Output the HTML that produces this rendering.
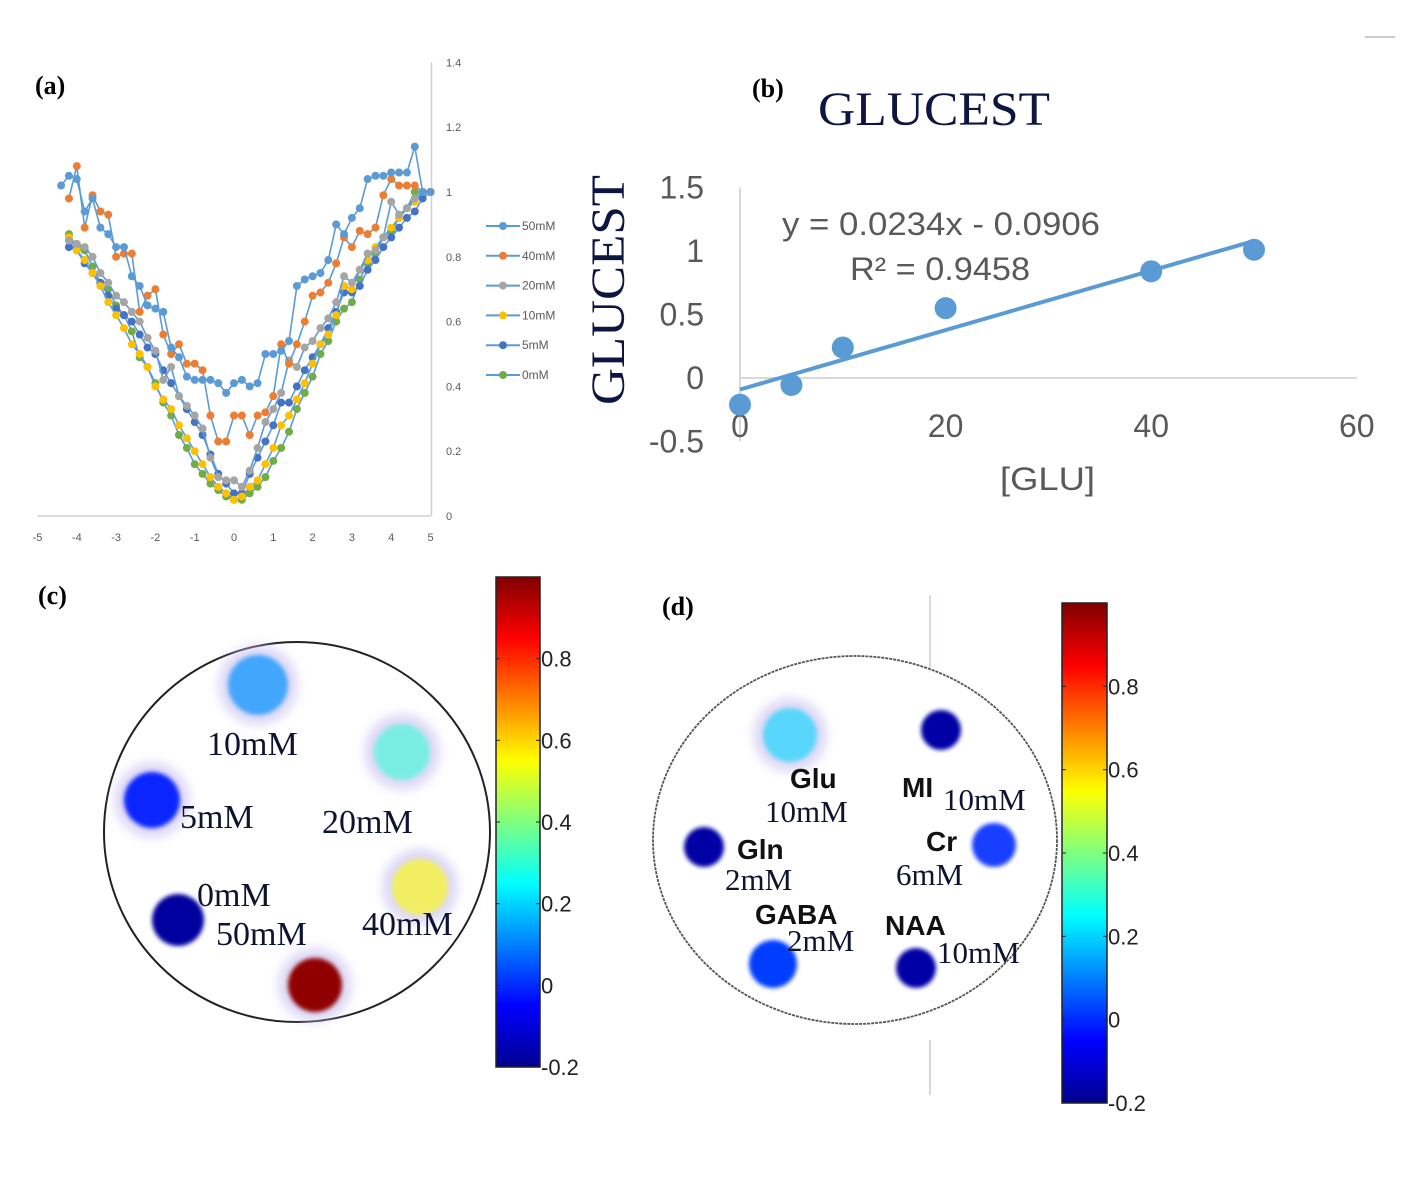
<!DOCTYPE html>
<html><head><meta charset="utf-8"><style>
html,body{margin:0;padding:0;background:#fff;}
svg{display:block;}
.serif{font-family:"Liberation Serif",serif;}
.sans{font-family:"Liberation Sans",sans-serif;}
</style></head><body>
<svg id="fig" width="1417" height="1187" viewBox="0 0 1417 1187" xmlns="http://www.w3.org/2000/svg">
<defs>
<linearGradient id="jet" x1="0" y1="1" x2="0" y2="0">
<stop offset="0" stop-color="#00008f"/><stop offset="0.125" stop-color="#0000ff"/><stop offset="0.375" stop-color="#00ffff"/><stop offset="0.625" stop-color="#ffff00"/><stop offset="0.875" stop-color="#ff0000"/><stop offset="1" stop-color="#800000"/>
</linearGradient>
<filter id="blur" x="-50%" y="-50%" width="200%" height="200%"><feGaussianBlur stdDeviation="5"/></filter>
<filter id="blur2" x="-50%" y="-50%" width="200%" height="200%"><feGaussianBlur stdDeviation="2"/></filter>
</defs>
<line x1="1365" y1="37" x2="1395" y2="37" stroke="#ccc" stroke-width="2"/>

<g id="panelA">
<text x="35" y="94" class="serif" font-weight="bold" font-size="26">(a)</text>
</g>
<g id="panelB">
<text x="752" y="97" class="serif" font-weight="bold" font-size="26">(b)</text>
<text x="818" y="125" class="serif" font-size="48" fill="#0d1640" textLength="232" lengthAdjust="spacingAndGlyphs">GLUCEST</text>
<text transform="translate(624,405) rotate(-90)" class="serif" font-size="48" fill="#0d1640" textLength="230" lengthAdjust="spacingAndGlyphs">GLUCEST</text>
<text x="1000" y="490" class="sans" font-size="32" fill="#595959" textLength="95" lengthAdjust="spacingAndGlyphs">[GLU]</text>
<text x="782" y="235" class="sans" font-size="32" fill="#595959" textLength="318" lengthAdjust="spacingAndGlyphs">y = 0.0234x - 0.0906</text>
<text x="850" y="280" class="sans" font-size="32" fill="#595959" textLength="180" lengthAdjust="spacingAndGlyphs">R² = 0.9458</text>
</g>

<g id="panelC">
<text x="38" y="604" class="serif" font-weight="bold" font-size="26">(c)</text>
<ellipse cx="297" cy="832" rx="193" ry="190" fill="#fff" stroke="#222" stroke-width="2"/>
</g>
<g id="panelD">
<text x="662" y="615" class="serif" font-weight="bold" font-size="26">(d)</text>
<line x1="930" y1="595" x2="930" y2="710" stroke="#d8c8d0" stroke-width="1.5"/>
<line x1="930" y1="1040" x2="930" y2="1095" stroke="#c8c8d8" stroke-width="1.5"/>
<ellipse cx="855" cy="840" rx="202" ry="184" fill="#fff" stroke="#555" stroke-width="1.8" stroke-dasharray="3,1"/>
</g>
</svg>
<script>
// ---------- Panel (a) data ----------
const aOffsets = [-4.4,-4.2,-4.0,-3.8,-3.6,-3.4,-3.2,-3.0,-2.8,-2.6,-2.4,-2.2,-2.0,-1.8,-1.6,-1.4,-1.2,-1.0,-0.8,-0.6,-0.4,-0.2,0,0.2,0.4,0.6,0.8,1.0,1.2,1.4,1.6,1.8,2.0,2.2,2.4,2.6,2.8,3.0,3.2,3.4,3.6,3.8,4.0,4.2,4.4,4.6,4.8,5.0];
const aSeriesNames = ["50mM","40mM","20mM","10mM","5mM","0mM"];
const aColors = ["#5b9bd5","#ed7d31","#a5a5a5","#ffc000","#4472c4","#70ad47"];
const s50 = [1.02,1.05,1.04,0.94,0.98,0.89,0.87,0.83,0.83,0.74,0.71,0.65,0.64,0.63,0.52,0.49,0.43,0.42,0.42,0.42,0.41,0.38,0.41,0.42,0.40,0.41,0.50,0.50,0.51,0.54,0.71,0.73,0.74,0.75,0.79,0.90,0.87,0.92,0.95,1.04,1.05,1.05,1.06,1.06,1.06,1.14,1.0,1.0];
const s40 = [null,0.98,1.08,0.89,0.99,0.94,0.93,0.80,0.81,0.81,0.63,0.68,0.70,0.56,0.50,0.53,0.47,0.47,0.45,0.31,0.23,0.23,0.31,0.31,0.25,0.31,0.32,0.37,0.53,0.47,0.53,0.60,0.68,0.69,0.72,0.78,0.86,0.83,0.88,0.87,0.89,0.99,1.04,1.02,1.02,1.02,1.0,1.0];
const s20 = [null,0.85,0.84,0.83,0.80,0.75,0.72,0.68,0.66,0.63,0.60,0.55,0.51,0.42,0.46,0.37,0.34,0.31,0.27,0.18,0.12,0.11,0.11,0.09,0.14,0.21,0.29,0.33,0.38,0.48,0.46,0.52,0.54,0.58,0.61,0.66,0.74,0.72,0.76,0.81,0.82,0.86,0.97,0.93,0.95,0.98,1.0,1.0];
const s10 = [null,0.86,0.82,0.79,0.75,0.71,0.66,0.62,0.58,0.53,0.50,0.46,0.40,0.36,0.33,0.28,0.24,0.20,0.16,0.12,0.09,0.07,0.05,0.06,0.09,0.11,0.16,0.21,0.28,0.31,0.36,0.41,0.47,0.53,0.56,0.62,0.71,0.70,0.76,0.79,0.83,0.86,0.89,0.92,0.95,0.97,1.0,1.0];
const s5 = [null,0.83,0.82,0.78,0.75,0.72,0.68,0.64,0.62,0.60,0.56,0.52,0.50,0.45,0.41,0.37,0.33,0.29,0.25,0.19,0.13,0.10,0.07,0.07,0.13,0.18,0.23,0.28,0.35,0.35,0.40,0.45,0.49,0.53,0.58,0.63,0.69,0.69,0.71,0.76,0.79,0.83,0.86,0.89,0.92,0.94,0.98,1.0];
const s0 = [null,0.87,0.83,0.82,0.77,0.72,0.70,0.65,0.62,0.57,0.49,0.46,0.41,0.35,0.31,0.25,0.21,0.16,0.13,0.10,0.08,0.06,0.05,0.05,0.07,0.09,0.12,0.17,0.21,0.26,0.33,0.38,0.43,0.50,0.54,0.60,0.64,0.66,0.73,0.78,0.81,0.86,0.88,0.92,0.95,1.0,1.0,1.0];
const aXTicks = ["-5","-4","-3","-2","-1","0","1","2","3","4","5"];
const aYTicks = ["0","0.2","0.4","0.6","0.8","1","1.2","1.4"];

// ---------- Panel (b) data ----------
const bConc = [0,5,10,20,40,50];
const bValues = [-0.21,-0.055,0.24,0.55,0.84,1.01];
const bSlope = 0.0234, bIntercept = -0.0906;
const bXTicks = ["0","20","40","60"];
const bYTicks = ["-0.5","0","0.5","1","1.5"];

// ---------- Panel (c)/(d) data ----------
const cLabels = ["10mM","20mM","5mM","0mM","40mM","50mM"];
const cValues = [0.12,0.30,-0.02,-0.18,0.55,0.98];
const dLabels = ["Glu","MI","Gln","Cr","GABA","NAA"];
const dValues = [0.2,-0.17,-0.17,0.0,0.02,-0.17];
const cbTicks = ["-0.2","0","0.2","0.4","0.6","0.8"];

const NS = "http://www.w3.org/2000/svg";
function mk(tag, attrs, parent){const e=document.createElementNS(NS,tag);for(const k in attrs)e.setAttribute(k,attrs[k]);parent.appendChild(e);return e;}

// Panel a axes
const gA = document.getElementById('panelA');
const ax = v => 234 + v*39.3;
const ay = v => 516 - v*324;
let e;
e = mk('line',{x1:ax(-5),y1:ay(0),x2:ax(5),y2:ay(0),stroke:'#d0d0d0','stroke-width':1.5},gA);
 
e = mk('line',{x1:ax(5)+1,y1:ay(1.4),x2:ax(5)+1,y2:ay(0),stroke:'#d0d0d0','stroke-width':1.5},gA);
 
aXTicks.forEach(t=>{
  e = mk('text',{x:ax(parseFloat(t)),y:541,'text-anchor':'middle','font-size':11,fill:'#595959','font-family':'Liberation Sans, sans-serif'},gA);
  e.textContent=t;
   
});
aYTicks.forEach(t=>{
  e = mk('text',{x:446,y:ay(parseFloat(t))+4,'font-size':11,fill:'#595959','font-family':'Liberation Sans, sans-serif'},gA);
  e.textContent=t;
   
});
const aAll=[s50,s40,s20,s10,s5,s0];
for(let si=aAll.length-1;si>=0;si--){
  const vals=aAll[si];
  const g=mk('g',{},gA);
   
  let d='';
  vals.forEach((v,i)=>{ if(v===null)return; d+=(d?'L':'M')+ax(aOffsets[i]).toFixed(1)+','+ay(v).toFixed(1); });
  e=mk('path',{d:d,fill:'none',stroke:'#5b9bd5','stroke-width':1.6},g);
   
  vals.forEach((v,i)=>{ if(v===null)return;
    e=mk('circle',{cx:ax(aOffsets[i]),cy:ay(v),r:4,fill:aColors[si]},g);
     
  });
}
aSeriesNames.forEach((n,i)=>{
  const y=226+i*29.8;
  const g=mk('g',{},gA);
   
  mk('line',{x1:486,y1:y,x2:520,y2:y,stroke:'#5b9bd5','stroke-width':2},g);
  mk('circle',{cx:503,cy:y,r:4,fill:aColors[i]},g);
  const t=mk('text',{x:522,y:y+4,'font-size':12,fill:'#595959','font-family':'Liberation Sans, sans-serif'},g);
  t.textContent=n;
});

// Panel b
const gB=document.getElementById('panelB');
const bx=v=>740+v*10.28;
const by=v=>378-v*127;
e=mk('line',{x1:bx(0),y1:by(1.5),x2:bx(0),y2:by(-0.5),stroke:'#d9d9d9','stroke-width':2},gB);
 
e=mk('line',{x1:bx(0),y1:by(0),x2:bx(60),y2:by(0),stroke:'#d9d9d9','stroke-width':2},gB);
 
bXTicks.forEach(t=>{
  e=mk('text',{x:bx(parseFloat(t)),y:437,'text-anchor':'middle','font-size':32,fill:'#595959','font-family':'Liberation Sans, sans-serif'},gB);
  e.textContent=t;  
});
bYTicks.forEach(t=>{
  e=mk('text',{x:704,y:by(parseFloat(t))+11,'text-anchor':'end','font-size':32,fill:'#595959','font-family':'Liberation Sans, sans-serif'},gB);
  e.textContent=t;  
});
const x0=bConc[0], x1=bConc[bConc.length-1];
e=mk('line',{x1:bx(x0),y1:by(bSlope*x0+bIntercept),x2:bx(x1),y2:by(bSlope*x1+bIntercept),stroke:'#5b9bd5','stroke-width':4},gB);
 
bConc.forEach((c,i)=>{
  e=mk('circle',{cx:bx(c),cy:by(bValues[i]),r:11,fill:'#5b9bd5'},gB);
   
});

// jet colormap
function jet(v,lo,hi){
  let t=(v-lo)/(hi-lo); t=Math.max(0,Math.min(1,t));
  const stops=[[0,[0,0,143]],[0.125,[0,0,255]],[0.375,[0,255,255]],[0.625,[255,255,0]],[0.875,[255,0,0]],[1,[128,0,0]]];
  for(let i=1;i<stops.length;i++){ if(t<=stops[i][0]){const a=stops[i-1],b=stops[i];const f=(t-a[0])/(b[0]-a[0]);
    return 'rgb('+a[1].map((c,k)=>Math.round(c+(b[1][k]-c)*f)).join(',')+')';}}
  return 'rgb(128,0,0)';
}
function colorbar(g,x,yTop,yBot,w){
  e=mk('rect',{x:x,y:yTop,width:w,height:yBot-yTop,fill:'url(#jet)',stroke:'#222','stroke-width':1.5},g);
   
  const cy=v=>yBot-(v+0.2)/1.2*(yBot-yTop);
  cbTicks.forEach(t=>{
    const y=cy(parseFloat(t));
    mk('line',{x1:x,y1:y,x2:x+4,y2:y,stroke:'#222'},g);
    mk('line',{x1:x+w-4,y1:y,x2:x+w,y2:y,stroke:'#222'},g);
    e=mk('text',{x:x+w+1,y:y+8,'font-size':22,fill:'#222','font-family':'Liberation Sans, sans-serif'},g);
    e.textContent=t;  
  });
}
function blob(g,cx,cy,r,val,halo,name,op){
  const col=jet(val,-0.2,1.0);
  if(halo){ e=mk('circle',{cx:cx,cy:cy,r:r+10,fill:'#c8c0f0',opacity:0.6,filter:'url(#blur)'},g);}
  e=mk('circle',{cx:cx,cy:cy,r:r,fill:col,opacity:op,filter:'url(#blur2)'},g);
   
}
function label(g,x,y,txt,sans,size){
  e=mk('text',{x:x,y:y,'font-size':size,fill:sans?'#111':'#0d1430','font-weight':sans?'bold':'normal','font-family':sans?'Liberation Sans, sans-serif':'Liberation Serif, serif'},g);
  e.textContent=txt;  
}
// Panel c
const gC=document.getElementById('panelC');
colorbar(gC,496,577,1067,44);
const cPos=[[258,685,30],[402,752,28],[152,800,28],[178,920,26],[420,887,28],[315,985,27]];
const cOp=[0.7,0.55,0.95,1,0.6,1];
cLabels.forEach((l,i)=>blob(gC,cPos[i][0],cPos[i][1],cPos[i][2],cValues[i],i!==3,'sample-'+l,cOp[i]));
label(gC,207,755,'10mM',false,34);
label(gC,180,828,'5mM',false,34);
label(gC,322,833,'20mM',false,34);
label(gC,197,906,'0mM',false,34);
label(gC,216,945,'50mM',false,34);
label(gC,362,935,'40mM',false,34);
// Panel d
const gD=document.getElementById('panelD');
colorbar(gD,1062,603,1103,45);
const dPos=[[790,735,27],[941,730,20],[704,847,20],[994,845,22],[773,964,24],[916,968,20]];
const dOp=[0.6,1,1,0.9,1,1];
dLabels.forEach((l,i)=>blob(gD,dPos[i][0],dPos[i][1],dPos[i][2],dValues[i],i===0,'sample-'+l,dOp[i]));
label(gD,790,788,'Glu',true,28);
label(gD,765,822,'10mM',false,31);
label(gD,902,797,'MI',true,28);
label(gD,943,810,'10mM',false,31);
label(gD,737,859,'Gln',true,28);
label(gD,725,890,'2mM',false,31);
label(gD,926,851,'Cr',true,28);
label(gD,896,885,'6mM',false,31);
label(gD,755,924,'GABA',true,28);
label(gD,787,951,'2mM',false,31);
label(gD,885,935,'NAA',true,28);
label(gD,937,963,'10mM',false,31);
</script>
</body></html>
